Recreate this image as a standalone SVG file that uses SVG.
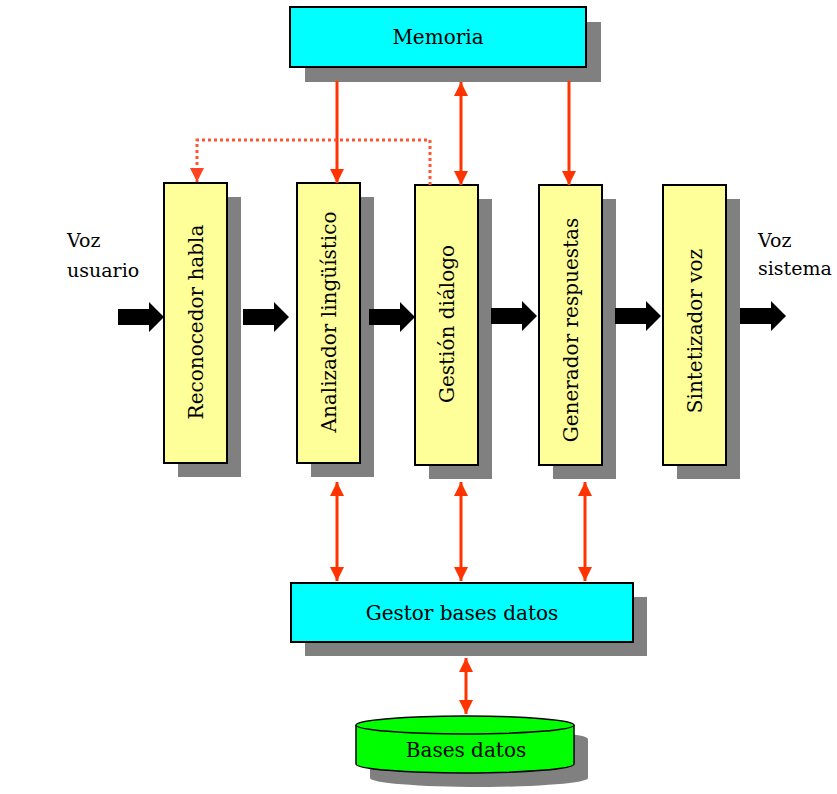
<svg xmlns="http://www.w3.org/2000/svg" width="837" height="794" viewBox="0 0 837 794">
  <style>
    .shadow { fill: #808080; }
    .stage { fill: #FFFF99; stroke: #000; stroke-width: 2; }
    .store { fill: #00FFFF; stroke: #000; stroke-width: 2; }
    .disk { fill: #00FF00; stroke: #000; stroke-width: 1.5; }
    .label { font-family: "DejaVu Serif", "Liberation Serif", serif; font-size: 20px; fill: #000; text-anchor: middle; }
    .side { font-family: "DejaVu Serif", "Liberation Serif", serif; font-size: 19px; fill: #000; }
    .link { stroke: #FF3300; stroke-width: 3; fill: none; }
    .hint { stroke: #FF5533; stroke-width: 3; fill: none; stroke-dasharray: 3 3; }
    .flow { fill: #000; }
  </style>
  <defs>
    <marker id="head" viewBox="0 0 14 14" refX="14" refY="7" markerWidth="14" markerHeight="14" markerUnits="userSpaceOnUse" orient="auto-start-reverse">
      <path d="M0,0 L14,7 L0,14 Z" fill="#FF3300"/>
    </marker>
    <marker id="headLight" viewBox="0 0 14 14" refX="14" refY="7" markerWidth="14" markerHeight="14" markerUnits="userSpaceOnUse" orient="auto">
      <path d="M0,0 L14,7 L0,14 Z" fill="#FF4422"/>
    </marker>
    <path id="fat" d="M0,-8 H31 V-15 L46,0 L31,15 V8 H0 Z"/>
  </defs>

  <rect width="837" height="794" fill="#fff"/>

  <!-- shared memory -->
  <g id="memoria">
    <rect class="shadow" x="305" y="22" width="296" height="60"/>
    <rect class="store" x="290" y="7" width="296" height="60"/>
    <text class="label" x="438" y="37" dy="0.35em">Memoria</text>
  </g>

  <!-- processing stages -->
  <g id="reconocedor">
    <rect class="shadow" x="178" y="197" width="63" height="280"/>
    <rect class="stage" x="164" y="183" width="63" height="280"/>
    <text class="label" transform="translate(195.5,322) rotate(-90)" dy="0.35em">Reconocedor habla</text>
  </g>
  <g id="analizador">
    <rect class="shadow" x="311" y="197" width="63" height="280"/>
    <rect class="stage" x="297" y="183" width="63" height="280"/>
    <text class="label" transform="translate(328.5,322) rotate(-90)" dy="0.35em">Analizador lingüístico</text>
  </g>
  <g id="gestion">
    <rect class="shadow" x="429" y="199" width="63" height="280"/>
    <rect class="stage" x="415" y="185" width="63" height="280"/>
    <text class="label" transform="translate(446.5,324) rotate(-90)" dy="0.35em">Gestión diálogo</text>
  </g>
  <g id="generador">
    <rect class="shadow" x="553" y="199" width="63" height="280"/>
    <rect class="stage" x="539" y="185" width="63" height="280"/>
    <text class="label" transform="translate(570.5,330) rotate(-90)" dy="0.35em">Generador respuestas</text>
  </g>
  <g id="sintetizador">
    <rect class="shadow" x="677" y="199" width="63" height="280"/>
    <rect class="stage" x="663" y="185" width="63" height="280"/>
    <text class="label" transform="translate(694.5,331) rotate(-90)" dy="0.35em">Sintetizador voz</text>
  </g>

  <!-- database manager -->
  <g id="gestor">
    <rect class="shadow" x="305" y="597" width="342" height="59"/>
    <rect class="store" x="291" y="583" width="342" height="59"/>
    <text class="label" x="462" y="612.5" dy="0.35em">Gestor bases datos</text>
  </g>

  <!-- database -->
  <g id="bases">
    <path class="shadow" d="M370,739 A109,9 0 0 1 588,739 V778 A109,9 0 0 1 370,778 Z"/>
    <path class="disk" d="M356,725 V764 A109,9 0 0 0 574,764 V725"/>
    <ellipse class="disk" cx="465" cy="725" rx="109" ry="9"/>
    <text class="label" x="466" y="750" dy="0.35em">Bases datos</text>
  </g>

  <!-- external labels -->
  <g id="voz-usuario">
    <text class="side" x="67" y="247">Voz</text>
    <text class="side" x="67" y="277">usuario</text>
  </g>
  <g id="voz-sistema">
    <text class="side" x="758" y="247">Voz</text>
    <text class="side" x="758" y="275">sistema</text>
  </g>

  <!-- connectors -->
  <g id="connectors">
    <!-- main voice pipeline -->
    <use href="#fat" class="flow" x="118" y="317"/>
    <use href="#fat" class="flow" x="243" y="317"/>
    <use href="#fat" class="flow" x="369" y="317"/>
    <use href="#fat" class="flow" x="491" y="316"/>
    <use href="#fat" class="flow" x="615" y="316"/>
    <use href="#fat" class="flow" x="740" y="316"/>

    <!-- memory links -->
    <line class="link" x1="337" y1="81" x2="337" y2="183" marker-end="url(#head)"/>
    <line class="link" x1="461" y1="82" x2="461" y2="185" marker-start="url(#head)" marker-end="url(#head)"/>
    <line class="link" x1="569" y1="81" x2="569" y2="185" marker-end="url(#head)"/>

    <!-- dialogue feedback to recogniser -->
    <path class="hint" d="M430,185 V140 H197 V182" marker-end="url(#headLight)"/>

    <!-- database manager links -->
    <line class="link" x1="337" y1="482" x2="337" y2="581" marker-start="url(#head)" marker-end="url(#head)"/>
    <line class="link" x1="461" y1="482" x2="461" y2="581" marker-start="url(#head)" marker-end="url(#head)"/>
    <line class="link" x1="585" y1="482" x2="585" y2="581" marker-start="url(#head)" marker-end="url(#head)"/>
    <line class="link" x1="466" y1="658" x2="466" y2="714" marker-start="url(#head)" marker-end="url(#head)"/>
  </g>
</svg>
